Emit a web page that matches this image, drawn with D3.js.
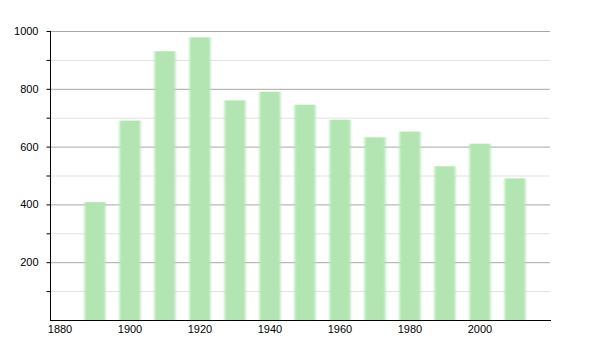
<html>
  <head>
    <script src="https://d3js.org/d3.v7.min.js"></script>
    <style>
      body { margin: 0; background: #fff; }
      text { font-family: "Liberation Sans", Arial, sans-serif; font-size: 11px; fill: #000; }
    </style>
  </head>
  <body>
    <div id="chart"></div>
    <script>
      const years = [1890, 1900, 1910, 1920, 1930, 1940, 1950, 1960, 1970, 1980, 1990, 2000, 2010];
      const population = [408, 690, 930, 978, 760, 790, 745, 693, 632, 652, 532, 610, 490];
      const xTicks = [1880, 1900, 1920, 1940, 1960, 1980, 2000];
      const yMajor = [200, 400, 600, 800, 1000];
      const yMinor = [100, 300, 500, 700, 900];

      const width = 600;
      const height = 350;

      const svg = d3.select("#chart").append("svg")
        .attr("width", width)
        .attr("height", height);

      const x = d3.scaleLinear().domain([1877.14, 2020]).range([50, 550]);
      const y = d3.scaleLinear().domain([0, 1000]).range([320, 31]);

      const blur = svg.append("defs").append("filter")
        .attr("id", "soft")
        .attr("x", "-20%").attr("width", "140%");
      blur.append("feGaussianBlur").attr("stdDeviation", "0.8 0");

      // grid
      svg.append("g").selectAll("line").data(yMinor).join("line")
        .attr("x1", 50).attr("x2", 550)
        .attr("y1", d => y(d) + 0.5).attr("y2", d => y(d) + 0.5)
        .attr("stroke", "#e2e2e2");
      svg.append("g").selectAll("line").data(yMajor).join("line")
        .attr("x1", 50).attr("x2", 550)
        .attr("y1", d => y(d) + 0.5).attr("y2", d => y(d) + 0.5)
        .attr("stroke", "#a8a8a8");

      // bars
      const bw = x(1896) - x(1890);
      svg.append("g").attr("filter", "url(#soft)")
        .selectAll("rect").data(years).join("rect")
        .attr("x", d => x(d) - bw / 2)
        .attr("width", bw)
        .attr("y", (d, i) => y(population[i]))
        .attr("height", (d, i) => y(0) - y(population[i]))
        .attr("fill", "#b3e5b3");

      // y axis
      const yAxis = svg.append("g").attr("transform", "translate(50.5,0)");
      yAxis.append("line").attr("y1", y(1000)).attr("y2", y(0) + 1).attr("stroke", "#000");
      yAxis.selectAll(".tk").data(yMajor.concat(yMinor)).join("line")
        .attr("x1", -4).attr("x2", 0)
        .attr("y1", d => y(d) + 0.5).attr("y2", d => y(d) + 0.5)
        .attr("stroke", "#000");
      yAxis.selectAll("text").data(yMajor).join("text")
        .attr("x", -12).attr("y", d => y(d) + 4)
        .attr("text-anchor", "end")
        .text(d => d);

      // x axis
      const xAxis = svg.append("g").attr("transform", `translate(0,${y(0) + 0.5})`);
      xAxis.append("line").attr("x1", 50).attr("x2", 551).attr("stroke", "#000");
      xAxis.selectAll("text").data(xTicks).join("text")
        .attr("x", d => x(d)).attr("y", 12)
        .attr("text-anchor", "middle")
        .text(d => d);
    </script>
  </body>
</html>
